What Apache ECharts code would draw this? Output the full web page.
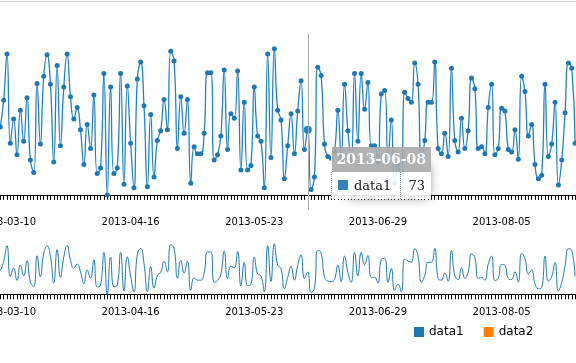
<!DOCTYPE html>
<html>
<head>
<meta charset="utf-8">
<script src="https://cdn.jsdelivr.net/npm/echarts@6/dist/echarts.min.js"></script>
<style>
  html, body { margin: 0; padding: 0; background: #fff; }
  #chart { width: 576px; height: 363px; }
</style>
</head>
<body>
<div id="chart"></div>
<script>
// ---- data ----
const startDate = '2013-03-08';
const dayCount = 173;
const xTickLabels = ['2013-03-10', '2013-04-16', '2013-05-23', '2013-06-29', '2013-08-05'];
const seriesNames = ['data1', 'data2'];
const data1 = [
  76,106,158,58,85,45,95,60,109,39,
  25,125,57,133,157,124,37,145,55,121,
  158,110,85,98,73,34,79,52,112,24,
  30,136,0,121,24,30,136,12,122,58,
  8,130,149,100,9,90,20,61,72,107,
  73,161,150,52,110,69,107,13,54,46,
  46,69,137,137,39,45,66,140,51,91,
  86,139,28,104,28,33,121,66,60,8,
  158,42,164,95,84,18,55,91,46,94,
  128,51,73,6,20,143,134,57,43,41,
  48,95,41,124,72,39,136,60,136,96,
  126,55,55,37,113,117,39,84,13,33,
  8,115,108,104,148,124,39,61,104,104,
  149,52,46,69,43,142,61,48,86,52,
  72,131,119,52,54,46,98,124,45,52,
  97,94,51,48,73,40,133,116,66,79,
  34,18,22,124,43,57,104,11,39,92,
  148,142,58
];
const data2 = [];
const tooltipDate = '2013-06-08';
const colors = ['#1f77b4', '#ff7f0e'];

// categories (consecutive days)
const categories = [];
{
  const t0 = Date.UTC(+startDate.slice(0,4), +startDate.slice(5,7) - 1, +startDate.slice(8,10));
  for (let i = 0; i < dayCount; i++) {
    const d = new Date(t0 + i * 86400000);
    const s = d.getUTCFullYear() + '-' + String(d.getUTCMonth() + 1).padStart(2, '0') + '-' + String(d.getUTCDate()).padStart(2, '0');
    categories.push(s);
  }
}

const chart = echarts.init(document.getElementById('chart'), null, { renderer: 'canvas' });

const yMin = -16.4, yMax = 180.4;

function xAxisCfg(gridIndex) {
  return {
    type: 'category',
    gridIndex: gridIndex,
    data: categories,
    boundaryGap: false,
    axisLine: { show: true, lineStyle: { color: '#000', width: 1 } },
    axisTick: { show: true, interval: 0, length: 5, lineStyle: { color: '#000', width: 1 } },
    axisLabel: {
      interval: function (idx, val) { return xTickLabels.indexOf(val) >= 0; },
      fontFamily: 'DejaVu Sans', fontSize: 10, color: '#000', margin: 8,
      hideOverlap: false
    },
    splitLine: { show: false },
    axisPointer: { show: gridIndex === 0, type: 'line', lineStyle: { color: '#aaa', width: 1, type: 'solid' }, label: { show: false } }
  };
}

const option = {
  animation: false,
  color: colors,
  grid: [
    { left: 0.3, right: 0.9, top: 34, height: 175.5, containLabel: false, outerBoundsMode: 'none' },
    { left: 0.3, right: 0.9, top: 238.7, height: 60.7, containLabel: false, outerBoundsMode: 'none' }
  ],
  xAxis: [xAxisCfg(0), xAxisCfg(1)],
  yAxis: [
    { type: 'value', gridIndex: 0, min: yMin, max: yMax, show: false, splitLine: { show: false } },
    { type: 'value', gridIndex: 1, min: yMin, max: yMax, show: false, splitLine: { show: false } }
  ],
  legend: {
    data: seriesNames,
    left: 414, top: 326, padding: 0,
    icon: 'rect', itemWidth: 10, itemHeight: 10, itemGap: 20,
    textStyle: { fontFamily: 'DejaVu Sans', fontSize: 12, color: '#000' }
  },
  tooltip: {
    trigger: 'axis',
    alwaysShowContent: true,
    transitionDuration: 0,
    padding: 0,
    borderWidth: 0,
    backgroundColor: 'transparent',
    extraCssText: 'box-shadow:none;',
    axisPointer: { type: 'line', lineStyle: { color: '#aaa', width: 1 } },
    position: [331, 147],
    formatter: function (params) {
      const p = params[0];
      return '<table style="border-collapse:collapse;border-spacing:0;background:#fff;box-shadow:7px 7px 12px -9px #777;opacity:0.9;font-family:\'DejaVu Serif\',serif;color:#000;">' +
        '<tr><th colspan="2" style="background:#aaa;font-size:14px;padding:2px 5px;text-align:left;color:#fff;font-weight:bold;">' + p.axisValue + '</th></tr>' +
        '<tr><td style="font-size:13px;padding:3px 6px;background:#fff;border-left:1px dotted #999;white-space:nowrap;">' +
        '<span style="display:inline-block;width:10px;height:10px;margin-right:6px;background:' + p.color + ';"></span>' + p.seriesName + '</td>' +
        '<td style="font-size:13px;padding:3px 6px;background:#fff;border-left:1px dotted #999;text-align:right;">' + p.value + '</td></tr></table>';
    }
  },
  graphic: [
    { type: 'line', shape: { x1: 0, y1: 1.5, x2: 576, y2: 1.5 }, style: { stroke: '#d0d0d0', lineWidth: 1 }, silent: true }
  ],
  series: [
    {
      name: seriesNames[0], type: 'line', xAxisIndex: 0, yAxisIndex: 0,
      data: data1, smooth: 0.5,
      symbol: 'circle', symbolSize: 5, showSymbol: true, showAllSymbol: true,
      lineStyle: { width: 1.3, color: colors[0] },
      itemStyle: { color: colors[0] },
      emphasis: { scale: 1.6, lineStyle: { width: 1.3 }, focus: 'none' }
    },
    {
      name: seriesNames[1], type: 'line', xAxisIndex: 0, yAxisIndex: 0,
      data: data2, symbol: 'circle', symbolSize: 5,
      lineStyle: { width: 1.3, color: colors[1] }, itemStyle: { color: colors[1] }
    },
    {
      name: seriesNames[0], type: 'line', xAxisIndex: 1, yAxisIndex: 1,
      data: data1, smooth: 0.5, showSymbol: false, symbol: 'none',
      lineStyle: { width: 1, color: colors[0] }, itemStyle: { color: colors[0] },
      tooltip: { show: false }, silent: true
    }
  ]
};

chart.setOption(option);
chart.dispatchAction({ type: 'showTip', seriesIndex: 0, dataIndex: categories.indexOf(tooltipDate) });
</script>
</body>
</html>
